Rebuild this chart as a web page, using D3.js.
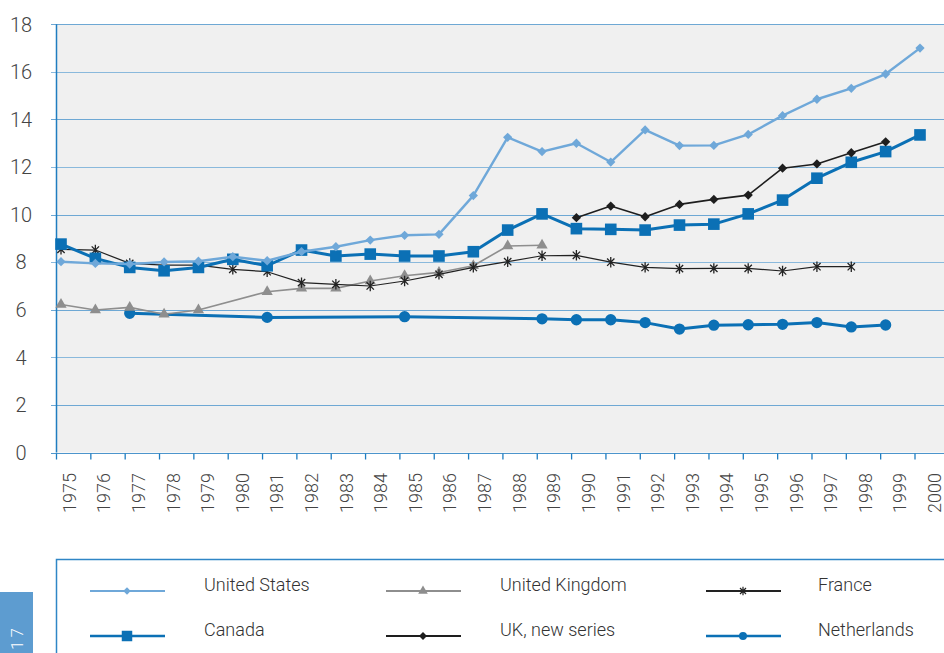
<!DOCTYPE html>
<html>
<head>
<meta charset="utf-8">
<script src="https://cdn.jsdelivr.net/npm/d3@7"></script>
<style>
  html, body { margin: 0; padding: 0; background: #fff; }
  svg { display: block; font-family: Roboto, "Liberation Sans", sans-serif; }
</style>
</head>
<body>
<script>
const width = 944
const height = 653
const years = d3.range(1975, 2001)
const yTicks = [0, 2, 4, 6, 8, 10, 12, 14, 16, 18]

// values, one entry per year
const usYears = d3.range(1975, 2001)
const usValues = [8.02, 7.95, 7.92, 8.01, 8.04, 8.23, 8.06, 8.44, 8.65, 8.93, 9.13, 9.17, 10.8, 13.25, 12.65, 13.0, 12.21, 13.56, 12.9, 12.91, 13.37, 14.16, 14.85, 15.31, 15.91, 17.0]
const canadaYears = d3.range(1975, 2001)
const canadaValues = [8.76, 8.16, 7.78, 7.64, 7.78, 8.12, 7.85, 8.51, 8.26, 8.34, 8.26, 8.26, 8.44, 9.35, 10.03, 9.41, 9.38, 9.35, 9.56, 9.6, 10.03, 10.61, 11.53, 12.2, 12.65, 13.35]
const ukYears = [1975, 1976, 1977, 1978, 1979, 1981, 1982, 1983, 1984, 1985, 1986, 1987, 1988, 1989]
const ukValues = [6.22, 5.99, 6.1, 5.81, 5.99, 6.76, 6.9, 6.9, 7.21, 7.43, 7.57, 7.85, 8.68, 8.71]
const franceYears = d3.range(1975, 1999)
const franceValues = [8.54, 8.51, 7.95, 7.88, 7.88, 7.7, 7.6, 7.14, 7.07, 7.0, 7.21, 7.49, 7.78, 8.02, 8.27, 8.29, 8.0, 7.78, 7.73, 7.74, 7.74, 7.63, 7.81, 7.81]
const ukNewYears = d3.range(1990, 2000)
const ukNewValues = [9.87, 10.36, 9.91, 10.43, 10.64, 10.82, 11.95, 12.13, 12.6, 13.06]
const nlYears = [1977, 1981, 1985, 1989, 1990, 1991, 1992, 1993, 1994, 1995, 1996, 1997, 1998, 1999]
const nlValues = [5.85, 5.68, 5.71, 5.62, 5.58, 5.58, 5.46, 5.19, 5.35, 5.37, 5.39, 5.46, 5.28, 5.36]

// excel style star: vertical bar plus an x
const star = {
  draw(context, size) {
    const r = Math.sqrt(size) * 0.6
    const d = r * Math.SQRT1_2
    context.moveTo(0, -r); context.lineTo(0, r)
    context.moveTo(-d, -d); context.lineTo(d, d)
    context.moveTo(-d, d); context.lineTo(d, -d)
  }
}

const series = [
  { name: 'Netherlands', years: nlYears, values: nlValues, color: '#0b70b5', width: 3, symbol: d3.symbolCircle, size: 100, lsize: 50, fill: '#0b70b5' },
  { name: 'United Kingdom', years: ukYears, values: ukValues, color: '#8e8e8e', width: 1.6, symbol: d3.symbolTriangle, size: 55, lsize: 40, fill: '#8e8e8e' },
  { name: 'France', years: franceYears, values: franceValues, color: '#222', width: 1.2, symbol: star, size: 75, lsize: 50, fill: 'none' },
  { name: 'Canada', years: canadaYears, values: canadaValues, color: '#0b70b5', width: 3, symbol: d3.symbolSquare, size: 135, lsize: 110, fill: '#0b70b5' },
  { name: 'UK, new series', years: ukNewYears, values: ukNewValues, color: '#1e1e1e', width: 1.6, symbol: d3.symbolDiamond2, size: 55, lsize: 40, fill: '#1e1e1e' },
  { name: 'United States', years: usYears, values: usValues, color: '#6fa8d9', width: 2.4, symbol: d3.symbolDiamond2, size: 55, lsize: 35, fill: '#6fa8d9' }
]
const legendOrder = ['United States', 'United Kingdom', 'France', 'Canada', 'UK, new series', 'Netherlands']

const svg = d3.select('body')
  .append('svg')
  .attr('width', width)
  .attr('height', height)

// scales
const x = d3.scaleLinear().domain([1975, 2000]).range([61, 920])
const xBand = d3.scaleBand().domain(years).range([56.5, 56.5 + 26 * 34.34])
const xLabel = d3.scaleLinear().domain([1975, 2000]).range([69.3, 934.5])
const y = d3.scaleLinear().domain([0, 18]).range([452.5, 24.3])

// plot background
svg.append('rect')
  .attr('x', 56.5).attr('y', y(18))
  .attr('width', width - 56.5).attr('height', y(0) - y(18))
  .attr('fill', '#f0f0f0')

// grid lines
svg.append('g')
  .selectAll('line')
  .data(yTicks)
  .join('line')
  .attr('x1', 51).attr('x2', width)
  .attr('y1', d => Math.round(y(d)) + 0.5).attr('y2', d => Math.round(y(d)) + 0.5)
  .attr('stroke', (d, i) => i % 2 ? '#6ea8d4' : '#8ab9dc')
  .attr('stroke-width', 1.2)

// y labels
svg.append('g')
  .selectAll('text')
  .data(yTicks)
  .join('text')
  .attr('x', 21)
  .attr('y', d => y(d))
  .attr('dy', '0.36em')
  .attr('text-anchor', 'middle')
  .attr('font-size', 20)
  .attr('font-weight', 300)
  .attr('fill', '#444')
  .text(d => d)

// y axis line
svg.append('line')
  .attr('x1', 56.5).attr('x2', 56.5)
  .attr('y1', y(18)).attr('y2', y(0))
  .attr('stroke', '#1f7dc0').attr('stroke-width', 1.5)

// x axis
const gx = svg.append('g')
  .attr('transform', 'translate(0,' + (Math.round(y(0)) + 0.5) + ')')
gx.append('line')
  .attr('x1', 51).attr('x2', width)
  .attr('stroke', '#4c95cc').attr('stroke-width', 1.2)
gx.selectAll('.edge')
  .data(years.concat([2001]))
  .join('line')
  .attr('class', 'edge')
  .attr('x1', d => d === 2001 ? xBand(2000) + xBand.bandwidth() : xBand(d))
  .attr('x2', d => d === 2001 ? xBand(2000) + xBand.bandwidth() : xBand(d))
  .attr('y1', 0).attr('y2', 6)
  .attr('stroke', '#1f7dc0').attr('stroke-width', 1.3)

svg.append('g')
  .selectAll('text')
  .data(years)
  .join('text')
  .attr('transform', d => 'translate(' + xLabel(d) + ',513) rotate(-90)')
  .attr('dy', '0.36em')
  .attr('font-size', 18)
  .attr('font-weight', 300)
  .attr('fill', '#444')
  .text(d => d)

// lines + markers
const line = d3.line()
  .x(d => x(d[0]))
  .y(d => y(d[1]))

series.forEach(s => {
  const pts = s.years.map((yr, i) => [yr, s.values[i]])
  const g = svg.append('g')
  g.append('path')
    .datum(pts)
    .attr('d', line)
    .attr('fill', 'none')
    .attr('stroke', s.color)
    .attr('stroke-width', s.width)
    .attr('stroke-linejoin', 'round')
  g.selectAll('path.mark')
    .data(pts)
    .join('path')
    .attr('class', 'mark')
    .attr('transform', d => 'translate(' + x(d[0]) + ',' + y(d[1]) + ')')
    .attr('d', d3.symbol().type(s.symbol).size(s.size))
    .attr('fill', s.fill)
    .attr('stroke', s.fill === 'none' ? s.color : 'none')
    .attr('stroke-width', 1.3)
})

// legend box
svg.append('rect')
  .attr('x', 56.5).attr('y', 559.5)
  .attr('width', width).attr('height', 150)
  .attr('fill', '#fff')
  .attr('stroke', '#2f86c6').attr('stroke-width', 1.5)

const colLine = [90, 386, 706]
const colText = [204, 500, 818]
const rowY = [591, 636]

const legend = svg.append('g')
legendOrder.forEach((name, i) => {
  const s = series.find(d => d.name === name)
  const c = i % 3
  const r = Math.floor(i / 3)
  const item = legend.append('g')
  item.append('line')
    .attr('x1', colLine[c]).attr('x2', colLine[c] + 75)
    .attr('y1', rowY[r]).attr('y2', rowY[r])
    .attr('stroke', s.color)
    .attr('stroke-width', s.width === 3 ? 2.5 : 2)
  item.append('path')
    .attr('transform', 'translate(' + (colLine[c] + 37) + ',' + rowY[r] + ')')
    .attr('d', d3.symbol().type(s.symbol).size(s.lsize))
    .attr('fill', s.fill)
    .attr('stroke', s.fill === 'none' ? s.color : 'none')
    .attr('stroke-width', 1.2)
  item.append('text')
    .attr('x', colText[c])
    .attr('y', rowY[r] - 6)
    .attr('dy', '0.35em')
    .attr('font-size', 18)
    .attr('font-weight', 300)
    .attr('fill', '#333')
    .text(name)
})

// page number tab
svg.append('rect')
  .attr('x', 0).attr('y', 592)
  .attr('width', 33).attr('height', 62)
  .attr('fill', '#5d9cd0')
svg.append('text')
  .attr('transform', 'translate(17,650) rotate(-90)')
  .attr('dy', '0.36em')
  .attr('font-size', 17)
  .attr('font-weight', 300)
  .attr('letter-spacing', 3)
  .attr('fill', '#fff')
  .text('17')
</script>
</body>
</html>
